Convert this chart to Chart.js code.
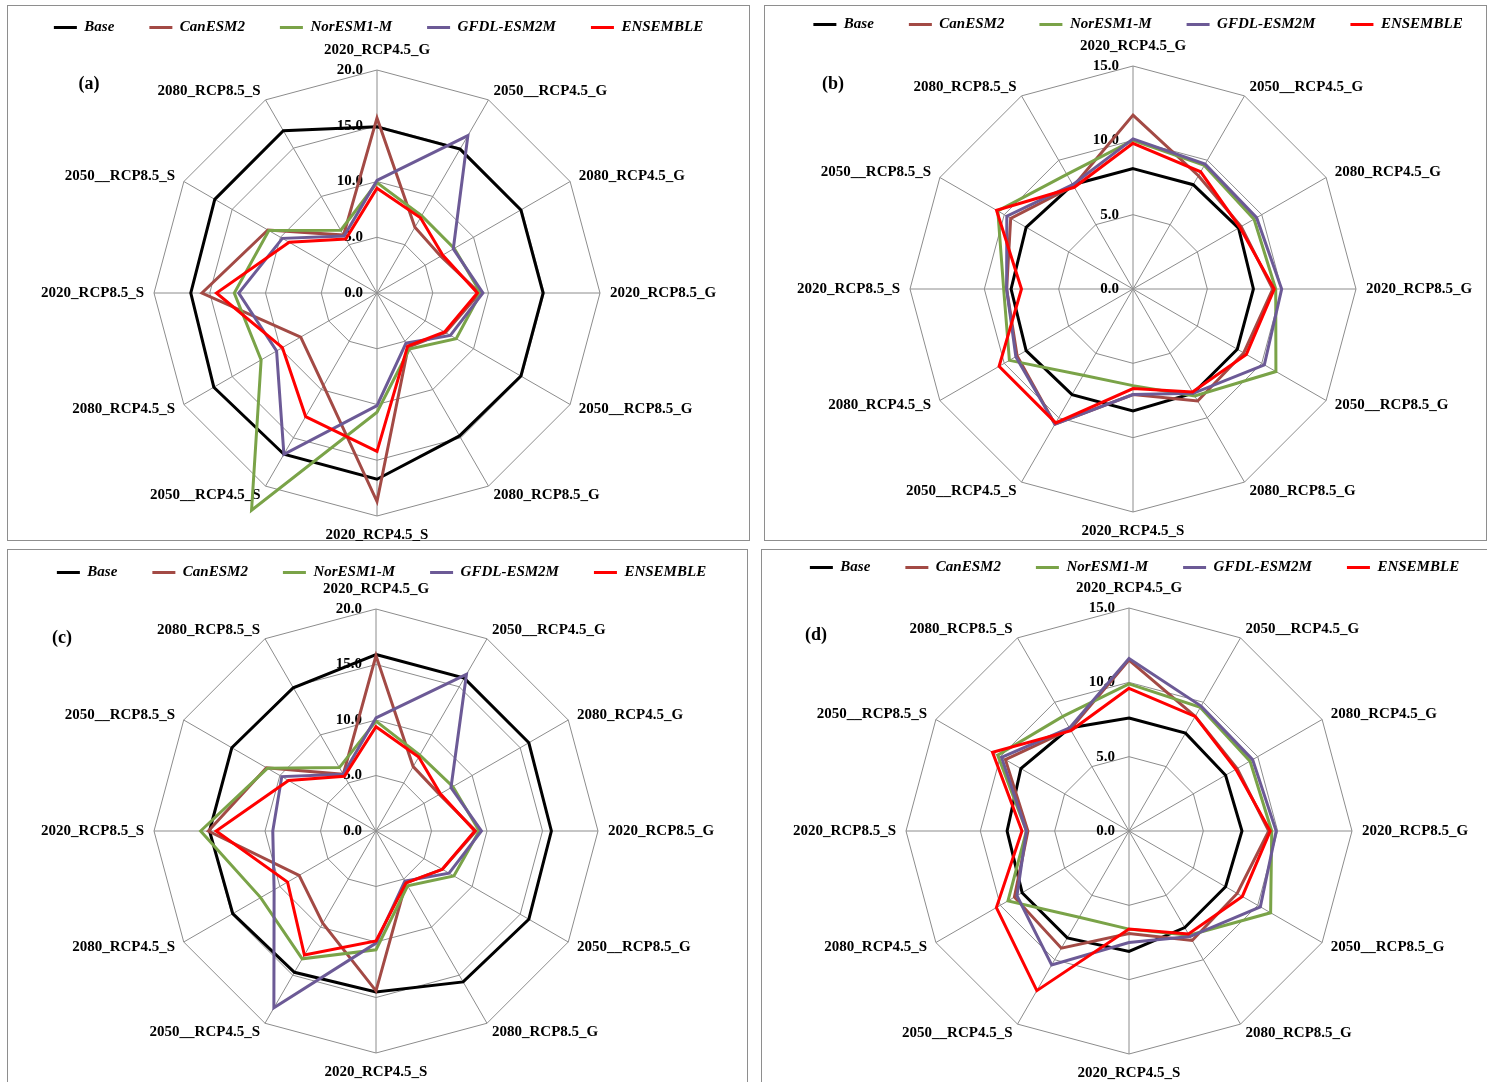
<!DOCTYPE html>
<html>
<head>
<meta charset="utf-8">
<script src="https://cdn.jsdelivr.net/npm/chart.js@4.4.1/dist/chart.umd.min.js"></script>
<style>
  html, body { margin: 0; padding: 0; background: #fff; }
  body { position: relative; width: 1487px; height: 1082px; overflow: hidden; }
  .frame { position: absolute; border: 1px solid #8e8e8e; box-sizing: border-box; }
  canvas { position: absolute; }
  .tag { position: absolute; font: bold 18px "Liberation Serif", serif; color: #000;
         transform: translate(-50%, -50%); white-space: nowrap; }
</style>
</head>
<body>
<div class="frame" id="fa"></div>
<div class="frame" id="fb"></div>
<div class="frame" id="fc"></div>
<div class="frame" id="fd"></div>
<canvas id="ca"></canvas>
<canvas id="cb"></canvas>
<canvas id="cc"></canvas>
<canvas id="cd"></canvas>
<span class="tag" style="left:89px;top:83px">(a)</span>
<span class="tag" style="left:833px;top:83px">(b)</span>
<span class="tag" style="left:62px;top:637px">(c)</span>
<span class="tag" style="left:816px;top:634px">(d)</span>
<script>
// Scenario axes, clockwise from the top
const categories = [
  '2020_RCP4.5_G', '2050__RCP4.5_G', '2080_RCP4.5_G', '2020_RCP8.5_G',
  '2050__RCP8.5_G', '2080_RCP8.5_G', '2020_RCP4.5_S', '2050__RCP4.5_S',
  '2080_RCP4.5_S', '2020_RCP8.5_S', '2050__RCP8.5_S', '2080_RCP8.5_S'
];
const seriesNames = ['Base', 'CanESM2', 'NorESM1-M', 'GFDL-ESM2M', 'ENSEMBLE'];
const seriesColors = ['#000000', '#A34A45', '#7AA348', '#6C5A96', '#FF0000'];

// Radial tick values per panel
const ticksA = [0, 5, 10, 15, 20];
const ticksB = [0, 5, 10, 15];
const ticksC = [0, 5, 10, 15, 20];
const ticksD = [0, 5, 10, 15];

// Panel (a)
const baseA = [14.9, 14.9, 14.9, 14.9, 14.9, 14.8, 16.7, 16.7, 16.9, 16.7, 16.8, 16.8];
const canA  = [15.7, 6.8, 6.6, 9.2, 7.1, 5.6, 18.7, 9.6, 7.9, 15.7, 11.3, 6.0];
const norA  = [9.9, 8.0, 8.0, 9.3, 8.2, 5.8, 10.7, 22.5, 12.0, 12.8, 11.2, 6.5];
const gfdlA = [10.1, 16.3, 7.9, 9.5, 7.6, 5.2, 10.1, 16.7, 10.4, 12.4, 9.8, 5.9];
const ensA  = [9.4, 7.8, 6.8, 9.0, 7.0, 5.5, 14.2, 12.8, 9.8, 14.4, 9.1, 5.6];

// Panel (b)
const baseB = [8.1, 8.1, 8.2, 8.1, 8.1, 8.1, 8.2, 8.2, 8.3, 8.2, 8.3, 8.1];
const canB  = [11.7, 8.8, 8.4, 9.4, 8.6, 8.7, 7.1, 10.5, 9.0, 8.5, 9.5, 8.0];
const norB  = [10.0, 9.6, 9.4, 9.6, 11.1, 8.3, 6.5, 6.7, 9.6, 8.7, 10.5, 8.9];
const gfdlB = [10.1, 9.7, 9.6, 10.0, 10.2, 8.1, 7.1, 10.5, 9.1, 8.5, 9.8, 8.1];
const ensB  = [9.8, 9.1, 8.3, 9.5, 8.8, 8.0, 6.7, 10.4, 10.4, 7.5, 10.6, 7.9];

// Panel (c)
const baseC = [15.9, 15.9, 15.9, 15.8, 15.9, 15.7, 14.5, 14.7, 14.9, 15.0, 15.0, 14.9];
const canC  = [15.8, 6.7, 6.6, 9.0, 6.9, 5.4, 14.4, 9.6, 8.0, 15.1, 11.4, 5.9];
const norC  = [9.9, 7.9, 8.0, 9.3, 8.1, 5.7, 10.7, 13.3, 12.0, 15.8, 11.3, 6.6];
const gfdlC = [10.2, 16.3, 7.8, 9.5, 7.6, 5.2, 10.1, 18.4, 10.6, 9.3, 9.8, 5.9];
const ensC  = [9.4, 7.7, 6.7, 8.9, 6.9, 5.4, 9.9, 12.9, 9.2, 14.4, 9.1, 5.7];

// Panel (d)
const baseD = [7.6, 7.6, 7.5, 7.6, 7.5, 7.5, 8.1, 8.3, 8.3, 8.2, 8.4, 8.0];
const canD  = [11.5, 8.9, 8.4, 9.4, 8.4, 8.5, 6.9, 9.1, 8.9, 6.8, 9.6, 7.9];
const norD  = [9.9, 9.6, 9.4, 9.6, 11.0, 8.1, 6.6, 6.7, 9.4, 6.9, 10.2, 8.9];
const gfdlD = [11.6, 9.7, 9.6, 9.9, 10.2, 8.2, 7.5, 10.4, 8.7, 6.9, 9.9, 8.0];
const ensD  = [9.6, 8.9, 8.3, 9.5, 8.8, 8.0, 6.6, 12.4, 10.3, 7.2, 10.6, 7.8];

const GRID = '#8c8c8c';
const LABEL_FONT = 'bold 15px "Liberation Serif", serif';

// Draws the value ticks (left of the vertical spoke) and the scenario names round the web
const radarText = {
  id: 'radarText',
  beforeDatasetsDraw(chart) {
    const sc = chart.scales.r;
    const ctx = chart.ctx;
    const n = chart.data.labels.length;
    ctx.save();
    ctx.fillStyle = '#000';
    ctx.font = LABEL_FONT;
    ctx.textAlign = 'right';
    ctx.textBaseline = 'middle';
    sc.ticks.forEach(t => {
      const d = sc.getDistanceFromCenterForValue(t.value);
      ctx.fillText(t.value.toFixed(1), sc.xCenter - 14, sc.yCenter - d);
    });
    chart.data.labels.forEach((lab, i) => {
      const p = sc.getPointPosition(i, sc.drawingArea + 10);
      const a = Math.round(i * 360 / n) % 360;
      let y = p.y;
      let align;
      if (a === 0) { align = 'center'; y -= 10; }
      else if (a === 180) { align = 'center'; y += 9; }
      else { align = a < 180 ? 'left' : 'right'; }
      ctx.textAlign = align;
      ctx.fillText(lab, p.x, y);
    });
    ctx.restore();
  }
};

function makePanel(cfg) {
  const frame = document.getElementById(cfg.frameId);
  frame.style.left = cfg.box.x + 'px';
  frame.style.top = cfg.box.y + 'px';
  frame.style.width = cfg.box.w + 'px';
  frame.style.height = cfg.box.h + 'px';

  const canvas = document.getElementById(cfg.canvasId);
  const top = cfg.legendY - 42;
  const width = cfg.canvasW || cfg.box.w;
  const height = cfg.box.y + cfg.box.h - top;
  canvas.width = width;
  canvas.height = height;
  canvas.style.width = width + 'px';
  canvas.style.height = height + 'px';
  canvas.style.left = cfg.box.x + 'px';
  canvas.style.top = top + 'px';

  const ticks = cfg.ticks;
  new Chart(canvas, {
    type: 'radar',
    data: {
      labels: categories,
      datasets: cfg.series.map((vals, i) => ({
        label: seriesNames[i],
        data: vals,
        borderColor: seriesColors[i],
        backgroundColor: seriesColors[i],
        borderWidth: 3,
        borderJoinStyle: 'miter',
        pointRadius: 0,
        pointHoverRadius: 0,
        fill: false,
        tension: 0,
        clip: false,
        order: cfg.series.length - i
      }))
    },
    options: {
      responsive: false,
      animation: false,
      events: [],
      layout: { padding: { left: cfg.legendShift, right: 0, top: 0, bottom: 0 } },
      plugins: {
        tooltip: { enabled: false },
        legend: {
          position: 'top',
          align: 'center',
          labels: {
            boxWidth: 23,
            boxHeight: 3,
            padding: 35,
            color: '#000',
            font: { family: '"Liberation Serif", serif', size: 15, weight: 'bold', style: 'italic' },
            generateLabels: (chart) => chart.data.datasets.map((d, i) => ({
              text: d.label,
              fillStyle: d.borderColor,
              strokeStyle: d.borderColor,
              lineWidth: 0,
              hidden: false,
              fontColor: '#000',
              datasetIndex: i
            }))
          }
        }
      },
      scales: {
        r: {
          min: ticks[0],
          max: ticks[ticks.length - 1],
          ticks: { stepSize: ticks[1] - ticks[0], display: false },
          grid: { color: GRID, lineWidth: 1, circular: false },
          angleLines: { color: GRID, lineWidth: 1 },
          pointLabels: { display: false },
          afterFit: (s) => {
            s.xCenter = cfg.center.x - cfg.box.x;
            s.yCenter = cfg.center.y - top;
            s.drawingArea = cfg.radius;
          }
        }
      }
    },
    plugins: [radarText]
  });
}

makePanel({
  frameId: 'fa', canvasId: 'ca',
  box: { x: 7, y: 5, w: 743, h: 536 },
  center: { x: 377, y: 293 }, radius: 223,
  legendY: 27, legendShift: 0, ticks: ticksA,
  series: [baseA, canA, norA, gfdlA, ensA]
});
makePanel({
  frameId: 'fb', canvasId: 'cb',
  box: { x: 764, y: 5, w: 723, h: 536 }, canvasW: 748,
  center: { x: 1133, y: 289 }, radius: 223,
  legendY: 24, legendShift: 0, ticks: ticksB,
  series: [baseB, canB, norB, gfdlB, ensB]
});
makePanel({
  frameId: 'fc', canvasId: 'cc',
  box: { x: 7, y: 549, w: 741, h: 545 },
  center: { x: 376, y: 831 }, radius: 222,
  legendY: 572, legendShift: 8, ticks: ticksC,
  series: [baseC, canC, norC, gfdlC, ensC]
});
makePanel({
  frameId: 'fd', canvasId: 'cd',
  box: { x: 761, y: 549, w: 735, h: 545 },
  center: { x: 1129, y: 831 }, radius: 223,
  legendY: 567, legendShift: 12, ticks: ticksD,
  series: [baseD, canD, norD, gfdlD, ensD]
});
</script>
</body>
</html>
